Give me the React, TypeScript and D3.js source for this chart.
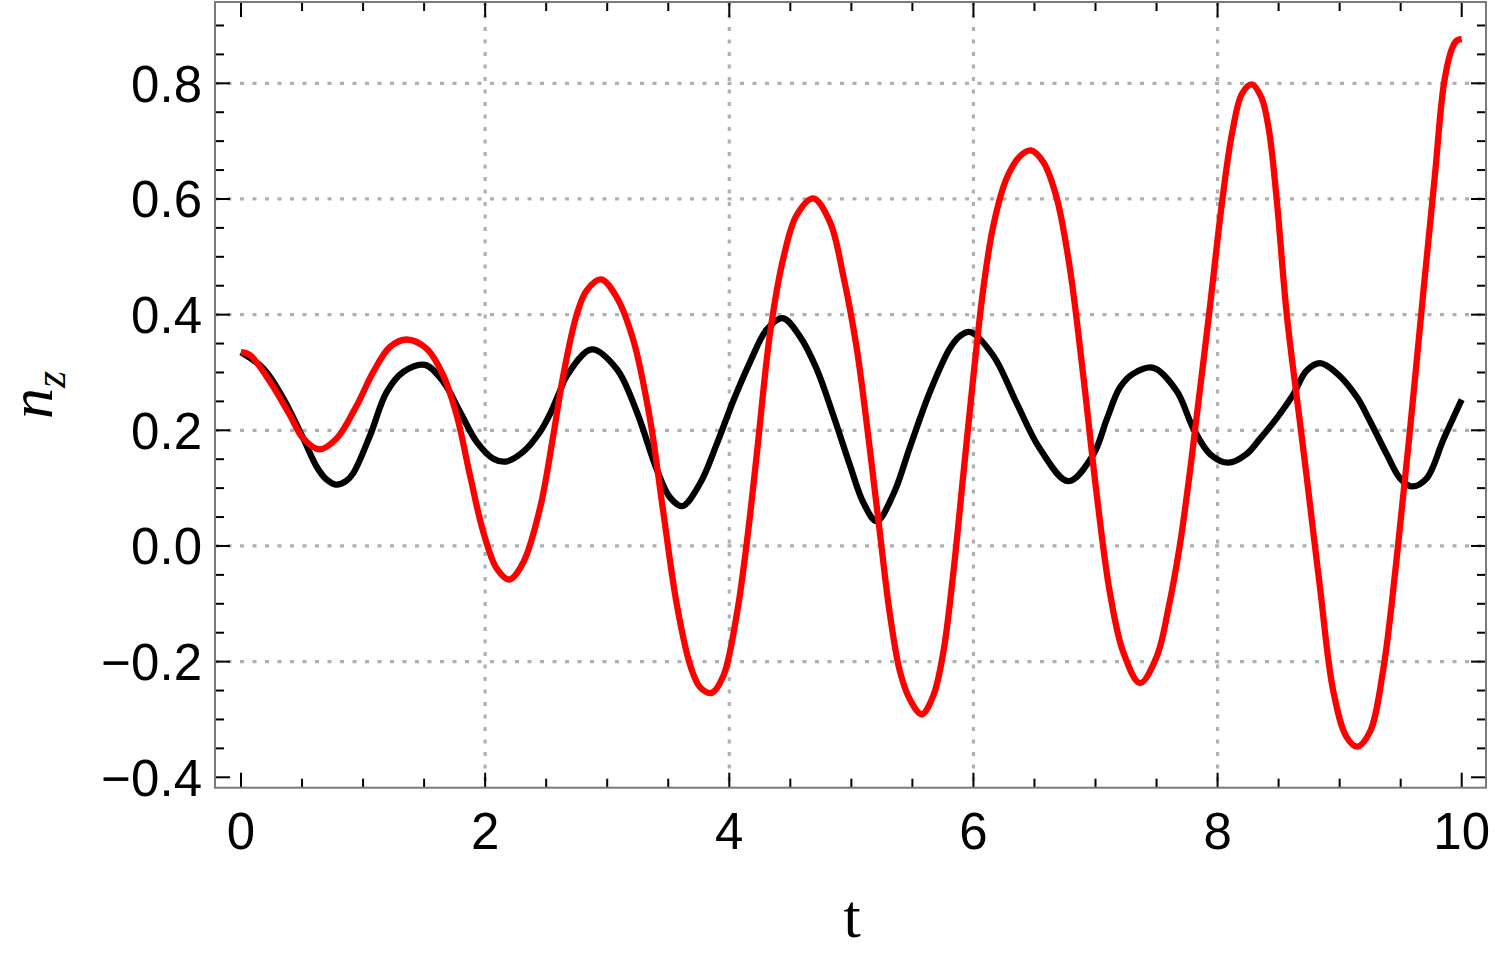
import React from "react";
import * as d3 from "d3";

// ---- data ----
const blackT = [0, 0.183, 0.347, 0.51, 0.62, 0.7, 0.778, 0.86, 0.92, 1.057, 1.193, 1.33, 1.507, 1.657, 1.794, 1.931, 2.067, 2.171, 2.313, 2.449, 2.531, 2.613, 2.668, 2.873, 3.078, 3.242, 3.405, 3.514, 3.615, 3.76, 3.897, 4.033, 4.17, 4.306, 4.437, 4.579, 4.716, 4.852, 4.989, 5.098, 5.207, 5.343, 5.48, 5.645, 5.808, 5.89, 5.972, 6.163, 6.354, 6.545, 6.777, 6.982, 7.092, 7.2, 7.31, 7.474, 7.665, 7.8, 7.938, 8.09, 8.238, 8.35, 8.485, 8.62, 8.729, 8.84, 8.975, 9.14, 9.247, 9.385, 9.495, 9.59, 9.713, 9.85, 10];
const blackN = [0.335, 0.307, 0.255, 0.186, 0.137, 0.115, 0.106, 0.112, 0.126, 0.191, 0.266, 0.301, 0.313, 0.284, 0.232, 0.18, 0.151, 0.146, 0.163, 0.197, 0.228, 0.268, 0.294, 0.34, 0.306, 0.232, 0.133, 0.084, 0.069, 0.108, 0.176, 0.251, 0.318, 0.374, 0.394, 0.362, 0.306, 0.226, 0.139, 0.075, 0.043, 0.089, 0.171, 0.267, 0.342, 0.363, 0.37, 0.329, 0.247, 0.168, 0.112, 0.158, 0.219, 0.274, 0.298, 0.308, 0.268, 0.204, 0.159, 0.144, 0.159, 0.186, 0.221, 0.262, 0.303, 0.316, 0.299, 0.258, 0.2165, 0.159, 0.117, 0.103, 0.117, 0.184, 0.253];

const redT = [0, 0.074, 0.238, 0.401, 0.51, 0.642, 0.784, 0.948, 1.084, 1.22, 1.357, 1.521, 1.657, 1.767, 1.876, 1.985, 2.095, 2.198, 2.313, 2.449, 2.558, 2.64, 2.75, 2.832, 2.949, 3.078, 3.214, 3.35, 3.459, 3.569, 3.678, 3.76, 3.856, 3.951, 4.06, 4.143, 4.225, 4.334, 4.443, 4.552, 4.688, 4.825, 4.934, 5.043, 5.153, 5.235, 5.317, 5.399, 5.481, 5.576, 5.671, 5.753, 5.835, 5.917, 6.0, 6.081, 6.163, 6.272, 6.381, 6.469, 6.572, 6.682, 6.791, 6.9, 7.01, 7.119, 7.228, 7.365, 7.502, 7.6, 7.69, 7.766, 7.815, 7.93, 8.04, 8.12, 8.2, 8.28, 8.36, 8.42, 8.484, 8.567, 8.683, 8.732, 8.838, 8.947, 9.056, 9.145, 9.247, 9.357, 9.466, 9.576, 9.686, 9.78, 9.855, 9.92, 9.96, 10];
const redN = [0.335, 0.33, 0.284, 0.226, 0.186, 0.167, 0.186, 0.243, 0.301, 0.344, 0.357, 0.341, 0.295, 0.226, 0.122, 0.024, -0.039, -0.058, -0.028, 0.065, 0.191, 0.295, 0.4, 0.442, 0.461, 0.43, 0.356, 0.22, 0.059, -0.1, -0.205, -0.244, -0.254, -0.225, -0.12, 0.005, 0.158, 0.368, 0.498, 0.572, 0.601, 0.56, 0.467, 0.343, 0.165, 0.02, -0.12, -0.218, -0.266, -0.291, -0.259, -0.184, -0.047, 0.123, 0.294, 0.445, 0.554, 0.636, 0.674, 0.684, 0.664, 0.602, 0.479, 0.294, 0.089, -0.082, -0.184, -0.237, -0.191, -0.105, 0.0, 0.116, 0.2, 0.4, 0.6, 0.715, 0.782, 0.798, 0.775, 0.72, 0.6, 0.4, 0.2, 0.116, -0.07, -0.25, -0.33, -0.347, -0.322, -0.214, -0.024, 0.2, 0.44, 0.64, 0.8, 0.86, 0.874, 0.877];

const xMajorTicks = [0, 2, 4, 6, 8, 10];
const xTickLabels = ["0", "2", "4", "6", "8", "10"];
const yMajorTicks = [-0.4, -0.2, 0.0, 0.2, 0.4, 0.6, 0.8];
const yTickLabels = ["\u22120.4", "\u22120.2", "0.0", "0.2", "0.4", "0.6", "0.8"];
const xGrid = [2, 4, 6, 8];
const yGrid = [-0.2, 0.0, 0.2, 0.4, 0.6, 0.8];
const xLabel = "t";
const yLabelMain = "n";
const yLabelSub = "z";

const W = 1495;
const H = 959;
const L = 215, R = 1486, T = 2, B = 787.7;

export default function App() {
  const x = d3.scaleLinear().domain([-0.213, 10.199]).range([L, R]);
  const y = d3.scaleLinear().domain([-0.418, 0.9406]).range([B, T]);

  const xMinor = d3.range(0, 10.001, 0.5).filter((v) => !xMajorTicks.some((m) => Math.abs(m - v) < 1e-6));
  const yMinor = d3.range(-0.4, 0.92, 0.05).filter((v) => !yMajorTicks.some((m) => Math.abs(m - v) < 1e-6) && y(v) >= T && y(v) <= B);

  const line = d3.line<[number, number]>().x((d) => x(d[0])).y((d) => y(d[1])).curve(d3.curveCatmullRom.alpha(0.5));
  const black = blackT.map((t, i) => [t, blackN[i]] as [number, number]);
  const red = redT.map((t, i) => [t, redN[i]] as [number, number]);

  const sans = "'Liberation Sans', Arial, Helvetica, sans-serif";
  const serif = "'Liberation Serif', 'Times New Roman', Times, serif";
  const majLen = 15, minLen = 9;

  return (
    <svg width={W} height={H} style={{ position: "absolute", left: 0, top: 0, background: "#fff" }}>
      <rect x={0} y={0} width={W} height={H} fill="#fff" />
      {/* grid */}
      <g stroke="#b0b0b0" strokeWidth={3.2} strokeDasharray="4 8.5">
        {yGrid.map((v) => (
          <line key={"gy" + v} x1={L} x2={R} y1={y(v)} y2={y(v)} />
        ))}
        {xGrid.map((v) => (
          <line key={"gx" + v} x1={x(v)} x2={x(v)} y1={T} y2={B} />
        ))}
      </g>
      {/* curves */}
      <path d={line(black) || ""} fill="none" stroke="#000" strokeWidth={6.3} strokeLinejoin="round" />
      <path d={line(red) || ""} fill="none" stroke="#ff0000" strokeWidth={6.3} strokeLinejoin="round" />
      {/* ticks */}
      <g stroke="#000" strokeWidth={2}>
        {xMajorTicks.map((v) => (
          <g key={"xt" + v}>
            <line x1={x(v)} x2={x(v)} y1={B} y2={B - majLen} />
            <line x1={x(v)} x2={x(v)} y1={T} y2={T + majLen} />
          </g>
        ))}
        {xMinor.map((v) => (
          <g key={"xm" + v}>
            <line x1={x(v)} x2={x(v)} y1={B} y2={B - minLen} />
            <line x1={x(v)} x2={x(v)} y1={T} y2={T + minLen} />
          </g>
        ))}
        {yMajorTicks.map((v) => (
          <g key={"yt" + v}>
            <line x1={L} x2={L + majLen} y1={y(v)} y2={y(v)} />
            <line x1={R} x2={R - majLen} y1={y(v)} y2={y(v)} />
          </g>
        ))}
        {yMinor.map((v) => (
          <g key={"ym" + v}>
            <line x1={L} x2={L + minLen} y1={y(v)} y2={y(v)} />
            <line x1={R} x2={R - minLen} y1={y(v)} y2={y(v)} />
          </g>
        ))}
      </g>
      {/* frame */}
      <rect x={L} y={T} width={R - L} height={B - T} fill="none" stroke="#7a7a7a" strokeWidth={2} />
      {/* tick labels */}
      <g fontFamily={sans} fontSize={51} fill="#000">
        {xMajorTicks.map((v, i) => (
          <text key={"xl" + v} x={x(v)} y={849} textAnchor="middle">
            {xTickLabels[i]}
          </text>
        ))}
        {yMajorTicks.map((v, i) => (
          <text key={"yl" + v} x={202} y={y(v) + 18.5} textAnchor="end">
            {yTickLabels[i]}
          </text>
        ))}
      </g>
      {/* axis labels */}
      <text x={852} y={937} textAnchor="middle" fontFamily={serif} fontSize={62} fill="#000">
        {xLabel}
      </text>
      <text transform="translate(52,395) rotate(-90)" textAnchor="middle" fontFamily={serif} fontStyle="italic" fontSize={62} fill="#000">
        {yLabelMain}
        <tspan dy={13} fontSize={44}>{yLabelSub}</tspan>
      </text>
    </svg>
  );
}
